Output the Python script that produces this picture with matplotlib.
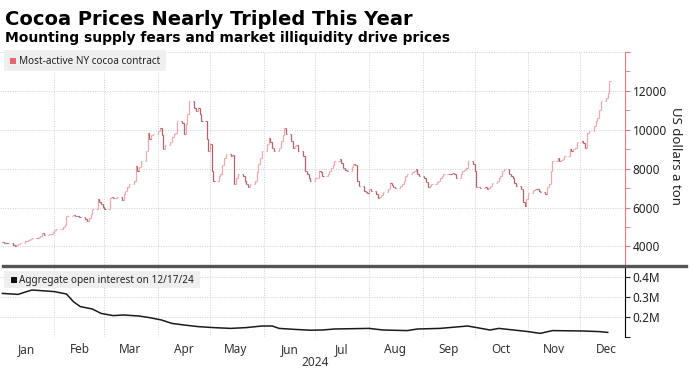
import pandas as pd
import numpy as np
import matplotlib
matplotlib.use("Agg")
from matplotlib import pyplot as plt
import matplotlib.dates as mdates
from matplotlib.patches import Rectangle
from matplotlib.lines import Line2D

# daily closes of the most-active NY cocoa contract (USD/t)
jan = [4230, 4200, 4180, 4170, 4080, 4050, 4100, 4150, 4200, 4260, 4300,
       4340, 4400, 4460, 4420, 4500, 4560, 4670, 4600, 4620, 4650, 4750]
feb = [4850, 4900, 4920, 5000, 5080, 5580, 5590, 5620, 5540, 5560, 5500,
       5490, 5420, 5330, 5450, 5690, 5950, 6460, 6300, 6200, 6050]
mar = [5950, 6510, 6550, 6480, 6510, 6560, 6410, 6720, 6850, 7030, 7200,
       7380, 8150, 7900, 8100, 8410, 8920, 9850, 9540, 9700, 9750]
apr = [9950, 10100, 9700, 9030, 9200, 9340, 9600, 9800, 9850, 10460, 10360,
       9800, 10300, 10800, 11490, 11130, 10970, 11130, 10800, 10460, 9500, 8920]
may = [9280, 7900, 7380, 7600, 7740, 8200, 8560, 8770, 8650, 8700, 7230, 7500,
       7740, 7600, 7380, 7230, 7030, 7200, 7380, 7800, 8250, 8560, 8900]
jun = [9280, 9590, 9340, 9080, 8920, 9080, 9400, 9700, 10100, 9800, 9400,
       9080, 9150, 9200, 8900, 8670, 7900, 7700, 7540, 7380]
jul = [7500, 7540, 7900, 7800, 7640, 7700, 7900, 8050, 8200, 8410, 8510, 8300,
       8050, 7950, 7900, 8100, 8250, 8200, 7380, 7100, 6870, 6800, 6770]
aug = [6970, 6850, 6720, 6510, 6550, 6650, 6800, 6970, 7280, 7150, 7030,
       7000, 7080, 7200, 7380, 7600, 7740, 7800, 7900, 8000, 7740, 7600]
sep = [7540, 7300, 7030, 7100, 7230, 7300, 7380, 7500, 7640, 7700, 7740,
       7700, 7750, 7700, 7540, 7700, 7900, 7950, 8050, 8400, 8250]
oct_ = [7900, 7030, 7050, 7000, 7030, 6970, 7000, 7130, 7250, 7380, 7500, 7640,
        7900, 8000, 7740, 7600, 7540, 7280, 7100, 6970, 6260, 6100, 6460]
nov = [6770, 6900, 6970, 6950, 6870, 6800, 6720, 7030, 7230, 7900, 8410,
       8560, 8410, 8450, 8510, 8670, 9030, 8900, 9030, 9080, 9340]
dec = [9440, 9300, 9080, 9850, 9950, 10200, 10460, 10620, 11000, 11490,
       11640, 11900, 12500]

# aggregate open interest (thousand contracts)
oi_dates = ["2024-01-02", "2024-01-11", "2024-01-19", "2024-02-01", "2024-02-08",
            "2024-02-12", "2024-02-16", "2024-02-23", "2024-02-28", "2024-03-06",
            "2024-03-12", "2024-03-21", "2024-03-27", "2024-04-03", "2024-04-09",
            "2024-04-16", "2024-04-24", "2024-05-03", "2024-05-13", "2024-05-22",
            "2024-05-31", "2024-06-06", "2024-06-10", "2024-06-19", "2024-06-28",
            "2024-07-05", "2024-07-12", "2024-08-01", "2024-08-09", "2024-08-23",
            "2024-08-29", "2024-09-11", "2024-09-27", "2024-10-10", "2024-10-15",
            "2024-11-01", "2024-11-08", "2024-11-15", "2024-12-03", "2024-12-12",
            "2024-12-17"]
oi_vals = [318, 313, 335, 327, 315, 277, 252, 240, 218, 207, 210, 205, 197,
           185, 168, 160, 152, 147, 143, 147, 155, 155, 143, 138, 134, 135,
           140, 143, 135, 132, 140, 143, 155, 135, 143, 127, 118, 132, 130,
           127, 123]

month_labels = ["Jan", "Feb", "Mar", "Apr", "May", "Jun", "Jul", "Aug",
                "Sep", "Oct", "Nov", "Dec"]

plt.rcParams['font.family'] = ['Noto Sans', 'DejaVu Sans']

# build price series on business days
months = [jan, feb, mar, apr, may, jun, jul, aug, sep, oct_, nov, dec]
dates, close = [], []
for m, vals in enumerate(months, start=1):
    start = pd.Timestamp(2024, m, 1)
    end = pd.Timestamp(2024, 12, 18) if m == 12 else start + pd.offsets.MonthEnd(0)
    days = pd.bdate_range(start, end)
    days = days[days != pd.Timestamp(2024, 1, 1)]
    for d, v in zip(days, vals):
        dates.append(d)
        close.append(v)
x = mdates.date2num(pd.DatetimeIndex(dates))
close = np.array(close, dtype=float)
prev = np.r_[close[0], close[:-1]]

W, H = 691, 370
def rect(x0, y0, x1, y1):
    return [x0 / W, 1 - y1 / H, (x1 - x0) / W, (y1 - y0) / H]

fig = plt.figure(figsize=(6.91, 3.70), dpi=100)
ax = fig.add_axes(rect(0, 51.7, 625, 265))
ax2 = fig.add_axes(rect(0, 268, 625, 337))

xlim = (mdates.date2num(pd.Timestamp("2023-12-31 14:00")),
        mdates.date2num(pd.Timestamp("2024-12-27")))
month_starts = pd.date_range("2024-02-01", "2024-12-01", freq="MS")
mids = [pd.Timestamp(2024, m, 16) for m in range(1, 13)]

grid_kw = dict(color="#cfcfcf", linestyle=(0, (1, 1.5)), linewidth=0.7)

# price bars
up = close >= prev
up_c, dn_c = "#eda9ac", "#b0636a"
for mask, col in [(up, up_c), (~up, dn_c)]:
    ax.vlines(x[mask], prev[mask], close[mask], color=col, lw=0.9)
    ax.hlines(prev[mask], x[mask] - 0.7, x[mask], color=col, lw=0.8)
    ax.hlines(close[mask], x[mask], x[mask] + 0.7, color=col, lw=0.8)

ax.set_xlim(xlim)
ax.set_ylim(3050, 14000)
ax.set_xticks(mdates.date2num(month_starts))
ax.tick_params(axis="x", length=0, labelbottom=False)
ax.yaxis.tick_right()
ax.set_yticks([4000, 6000, 8000, 10000, 12000, 14000])
ax.set_yticklabels(["4000", "6000", "8000", "10000", "12000", ""])
ax.set_yticks(np.arange(5000, 14000, 2000), minor=True)
ax.tick_params(axis="y", which="both", direction="out", length=3.5,
               color="#e07b7f", labelsize=8.5, labelcolor="#222222", pad=2)
ax.grid(True, **grid_kw)
for s in ["left", "top", "bottom"]:
    ax.spines[s].set_visible(False)
ax.spines["right"].set_color("#e07b7f")
ax.spines["right"].set_linewidth(0.8)

# open interest
ox = mdates.date2num(pd.to_datetime(oi_dates))
ax2.plot(ox, np.array(oi_vals) * 1000, color="#1a1a1a", lw=1.1)
ax2.set_xlim(xlim)
ax2.set_ylim(100000, 445000)
ax2.set_xticks(mdates.date2num(month_starts))
ax2.set_xticks(mdates.date2num(pd.DatetimeIndex(mids)), minor=True)
ax2.set_xticklabels(month_labels, minor=True)
ax2.set_xticklabels([], minor=False)
ax2.tick_params(axis="x", which="both", length=0, labelsize=8.5,
                labelcolor="#333333", pad=4)
ax2.yaxis.tick_right()
ax2.set_yticks([100000, 200000, 300000, 400000])
ax2.set_yticklabels(["", "0.2M", "0.3M", "0.4M"])
ax2.tick_params(axis="y", direction="out", length=3.5, color="#222222",
                labelsize=8.5, labelcolor="#222222", pad=2)
ax2.grid(True, **grid_kw)
for s in ["left", "top", "bottom"]:
    ax2.spines[s].set_visible(False)
ax2.spines["right"].set_linewidth(0.8)

# separator bar
fig.add_artist(Line2D([3 / W, 686 / W], [1 - 266 / H] * 2, lw=2.4,
                      color="#555555"))

# legend boxes
fig.add_artist(Rectangle((4 / W, 1 - 71 / H), 162 / W, 21 / H,
                         transform=fig.transFigure, facecolor="#efefef",
                         edgecolor="none"))
fig.add_artist(Rectangle((10 / W, 1 - 64 / H), 6 / W, 6 / H,
                         transform=fig.transFigure, facecolor="#e8646e",
                         edgecolor="none"))
fig.text(19 / W, 1 - 61 / H, "Most-active NY cocoa contract", fontsize=7.2,
         va="center", ha="left", color="#222222")
fig.add_artist(Rectangle((4 / W, 1 - 288 / H), 196 / W, 17 / H,
                         transform=fig.transFigure, facecolor="#efefef",
                         edgecolor="none"))
fig.add_artist(Rectangle((11 / W, 1 - 283 / H), 6 / W, 6 / H,
                         transform=fig.transFigure, facecolor="#111111",
                         edgecolor="none"))
fig.text(19 / W, 1 - 280 / H, "Aggregate open interest on 12/17/24",
         fontsize=7.2, va="center", ha="left", color="#222222")

# titles and labels
fig.text(5 / W, 1 - 25 / H, "Cocoa Prices Nearly Tripled This Year",
         fontsize=14.0, fontweight="bold", family="DejaVu Sans",
         va="baseline", ha="left")
fig.text(5 / W, 1 - 42 / H,
         "Mounting supply fears and market illiquidity drive prices",
         fontsize=10.0, fontweight="bold", family="DejaVu Sans",
         va="baseline", ha="left")
fig.text(675 / W, 1 - 156 / H, "US dollars a ton", rotation=270,
         fontsize=9.5, va="center", ha="center", color="#222222")
fig.text(315 / W, 1 - 362 / H, "2024", fontsize=8.5, va="center",
         ha="center", color="#333333")

fig.savefig("out.png", dpi=100)
